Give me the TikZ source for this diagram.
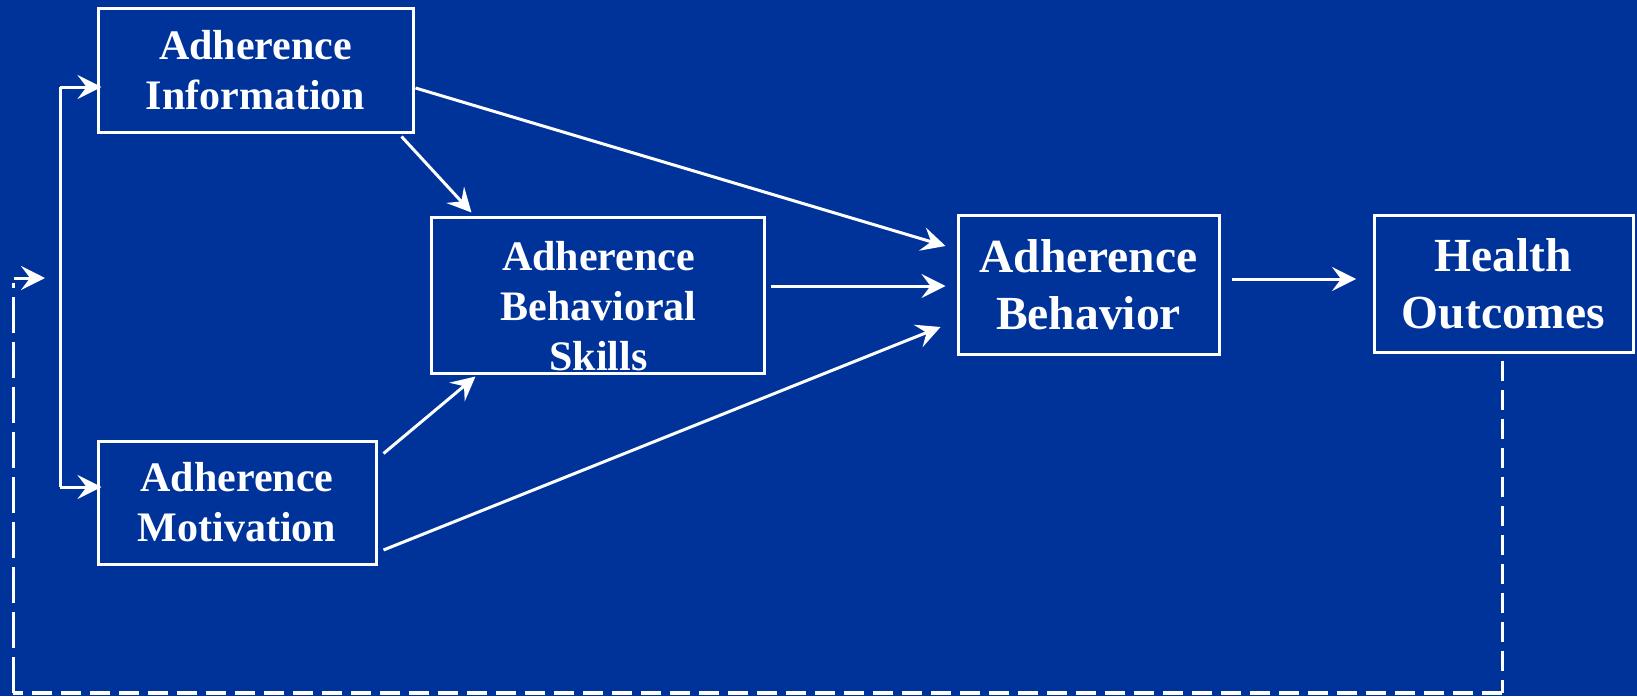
\documentclass[tikz,border=0pt]{standalone}
\usepackage{fontspec}
\setmainfont{Liberation Serif}
\usetikzlibrary{arrows.meta,calc}
\definecolor{bgblue}{RGB}{0,51,153}
\begin{document}
\begin{tikzpicture}[x=1pt,y=-1pt,
  box/.style={draw=white, line width=3pt, inner sep=0pt, align=center,
    text=white, font=\bfseries\fontsize{42}{50}\selectfont},
  bigbox/.style={box, font=\bfseries\fontsize{47.5}{57}\selectfont},
  boxtext/.style={text=white, align=center, inner sep=0pt,
    font=\bfseries\fontsize{42}{50}\selectfont},
  link/.style={draw=white, line width=3pt,
    -{Stealth[length=24pt,width=24pt,inset=9pt]}},
  plain/.style={draw=white, line width=3pt},
  fbdash/.style={draw=white, line width=3pt, dash pattern=on 20pt off 9pt},
  fbdashlong/.style={draw=white, line width=3pt, dash pattern=on 36pt off 9pt}
]
% background
\fill[bgblue] (0,0) rectangle (1637,696);
\useasboundingbox (0,0) rectangle (1637,696);

% boxes
\node[box, minimum width=315pt, minimum height=124pt] (info) at (255.5,70) {Adherence\\Information};
\node[box, minimum width=278pt, minimum height=123pt] (motiv) at (237,502.5) {Adherence\\Motivation};
\node[box, minimum width=333pt, minimum height=156pt] (skills) at (597.5,295) {};
\node[boxtext] (skillsT) at (598.5,305.7) {Adherence\\Behavioral\\Skills};
\node[bigbox, minimum width=261pt, minimum height=139pt] (behav) at (1088.5,285) {Adherence\\Behavior};
\node[bigbox, minimum width=259pt, minimum height=137pt] (health) at (1503.5,283.5) {Health\\Outcomes};

% bracket feeding information and motivation
\coordinate (bt) at (60,87);
\coordinate (bb) at (60,487);
\draw[plain] (bt) -- (bb);
\draw[link, shorten >=-5pt] (bt) -- (bt -| info.west);
\draw[link, shorten >=-5pt] (bb) -- (bb -| motiv.west);

% paths of the model
\draw[link] ($(info.south east)+(-13,3)$) -- ($(skills.north west)+(42,-3)$);
\draw[link] ($(info.east)+(1,18)$) -- ($(behav.west)+(-11,-39)$);
\draw[link] ($(skills.east)+(5,-9)$) -- ($(behav.west)+(-11,1)$);
\draw[link] ($(motiv.north east)+(6,14)$) -- ($(skills.south west)+(46,2)$);
\draw[link] ($(motiv.east)+(6,47.5)$) -- ($(behav.west)+(-16,42)$);
\draw[link] ($(behav.east)+(11.5,-6)$) -- ($(health.west)+(-16.5,-4.5)$);

% feedback loop from health outcomes
\coordinate (fbL) at (13,693);
\coordinate (fbR) at (1502,693);
\coordinate (fbT) at (14,278);
\coordinate (fbTip) at (45,278);
\draw[fbdash] ($(health.south)+(-1.5,7)$) -- (fbR);
\draw[fbdash, line width=3.5pt] (fbR) -- (fbL);
\draw[fbdashlong] (fbL) -- (13,283);
\draw[link] (fbT) -- (fbTip);
\end{tikzpicture}
\end{document}
